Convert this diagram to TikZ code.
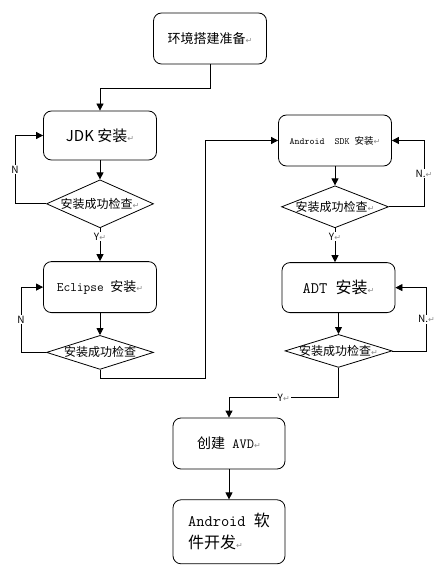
\documentclass[tikz,border=0pt]{standalone}
\usepackage{fontspec}
\newfontfamily\cjk{Noto Sans CJK SC}
\newfontfamily\symfont{DejaVu Sans}
\usetikzlibrary{arrows.meta, positioning, shapes.geometric}

% faint paragraph mark that trails each text
\newcommand{\retmark}{{\symfont\fontsize{8}{8}\selectfont\color{black!45}↵}}

\begin{document}
\begin{tikzpicture}[
    x=1pt, y=1pt,
    >={Triangle[length=7pt,width=7pt]},
    stepbox/.style={rectangle, rounded corners=8pt, draw, line width=0.8pt,
                    align=center, minimum width=113pt, minimum height=50pt},
    check/.style={diamond, draw, line width=0.8pt, inner sep=0pt,
                  minimum width=107pt, minimum height=44pt,
                  font=\cjk\fontsize{12}{14}\selectfont},
    yn/.style={fill=white, inner sep=1pt, font=\cjk\fontsize{10}{12}\selectfont},
    link/.style={->, line width=0.8pt},
]
\useasboundingbox (0,0) rectangle (446,-572);

\node[stepbox, minimum height=51pt, font=\cjk\fontsize{13}{15}\selectfont]
     (prep) at (210,-38.5) {环境搭建准备\retmark};
\node[stepbox, minimum height=49pt, font=\cjk\fontsize{15}{17}\selectfont]
     (jdk) at (100,-135.5) {JDK 安装\retmark};
\node[check, minimum height=48pt, below=19pt of jdk]      (chk1)
     {\makebox[0pt]{安装成功检查\retmark}};
\node[stepbox, minimum height=51pt, below=33pt of chk1,
      font=\fontsize{13}{15}\selectfont\ttfamily]         (eclipse)
     {Eclipse {\cjk 安装}\retmark};
\node[check, minimum height=34pt, below=22pt of eclipse]  (chk2)
     {\makebox[0pt]{安装成功检查}};

\node[stepbox, minimum height=51pt, font=\fontsize{9.5}{11}\selectfont\ttfamily]
     (sdk) at (335,-140.5) {Android~ SDK {\cjk 安装}\retmark};
\node[check, minimum height=42pt, below=19pt of sdk]      (chk3)
     {\makebox[0pt]{安装成功检查\retmark}};
\node[stepbox, below=34pt of chk3, xshift=3.5pt,
      font=\fontsize{16}{18}\selectfont\ttfamily]         (adt)
     {ADT {\cjk 安装}\retmark};
\node[check, minimum height=33pt, below=21pt of adt]      (chk4)
     {\makebox[0pt]{安装成功检查\retmark}};

\node[stepbox, minimum width=112pt, minimum height=51pt,
      font=\fontsize{14}{16}\selectfont\ttfamily]         (avd) at (229,-443.5)
     {{\cjk 创建} AVD\retmark};
\node[stepbox, minimum width=112pt, minimum height=64pt, align=left,
      font=\fontsize{16}{22}\selectfont\ttfamily, below=30pt of avd] (dev)
     {Android {\cjk 软}\\{\cjk 件开发}\retmark};

\coordinate (turn) at (205,-378);

\draw[link] (prep.south) -- ++(0,-24) -| (jdk.north);
\draw[link] (jdk) -- (chk1);
\draw[link] (chk1.west) -- ++(-31,0) |- node[yn, pos=0.25]{N} (jdk.west);
\draw[link] (chk1.south) -- node[yn, pos=0.25]{Y\retmark} (eclipse.north);
\draw[link] (eclipse) -- (chk2);
\draw[link] (chk2.west) -- ++(-25,0) |- node[yn, pos=0.25]{N} (eclipse.west);
\draw[link] (chk2.south) |- (turn) |- (sdk.west);

\draw[link] (sdk) -- (chk3);
\draw[link] (chk3.east) -- ++(35,0) |- node[yn, pos=0.25]{N.\retmark} (sdk.east);
\draw[link] (chk3.south) -- node[yn, pos=0.25]{Y\retmark} (chk3.south |- adt.north);
\draw[link] (adt) -- (chk4);
\draw[link] (chk4.east) -- ++(34,0) |- node[yn, pos=0.25]{N.\retmark} (adt.east);
\draw[link] (chk4.south) -- ++(0,-30) -| node[yn, pos=0.25]{Y\retmark} (avd.north);
\draw[link] (avd) -- (dev);

\end{tikzpicture}
\end{document}
